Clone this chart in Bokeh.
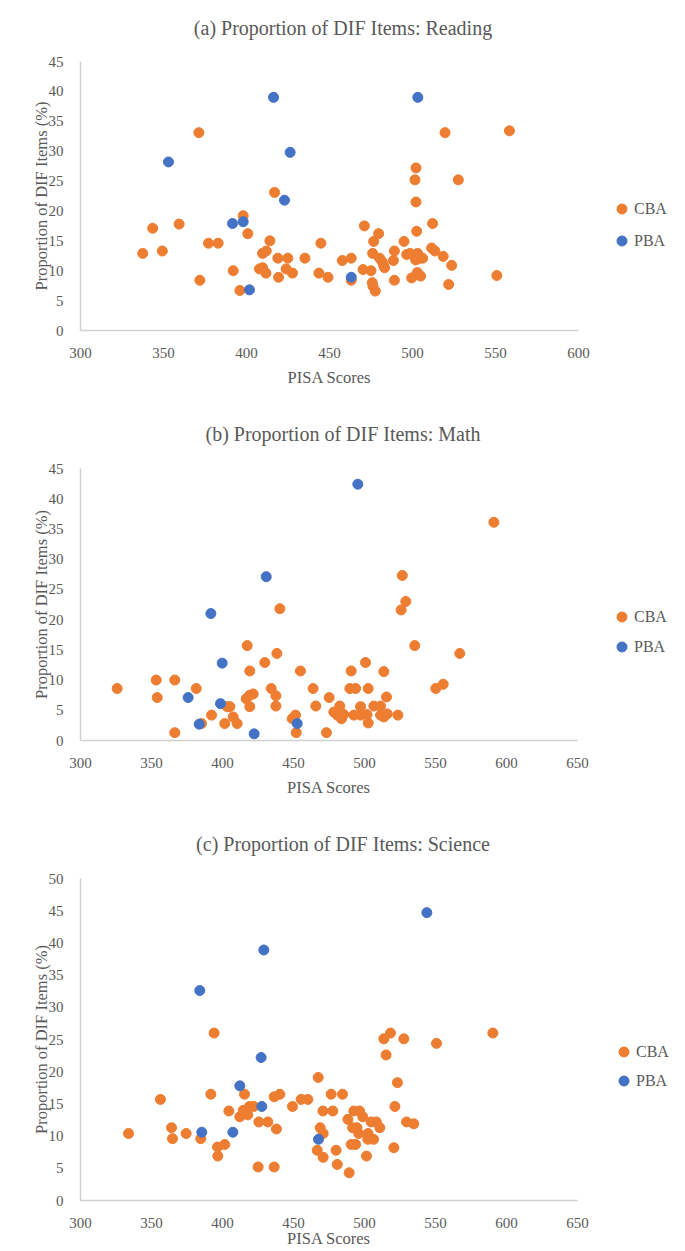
from bokeh.plotting import figure
from bokeh.models import Range1d, Label, Legend, LegendItem, FixedTicker
from bokeh.layouts import column
from bokeh.embed import file_html
from bokeh.resources import INLINE

# ---------------- data ----------------
# (a) Reading
read_cba_x = [337.5, 343.5, 349.3, 359.4, 371.3, 371.9, 377.1, 382.9, 392.0, 396.0, 398.0, 400.8,
              407.8, 409.7, 409.7, 411.7, 411.9, 414.1, 416.9, 418.9, 419.3, 423.9, 424.9, 427.7,
              435.2, 443.6, 444.8, 449.1, 457.7, 463.1, 463.1, 470.2, 471.0, 475.0, 475.8, 476.2,
              477.6, 476.6, 476.0, 479.6, 480.2, 481.8, 482.6, 483.2, 488.5, 489.1, 489.1, 494.9,
              496.5, 498.5, 499.5, 501.5, 502.1, 502.1, 502.5, 503.1, 501.9, 504.5, 506.1, 502.9,
              504.9, 511.5, 512.1, 513.5, 518.5, 519.6, 521.8, 523.6, 527.6, 550.8, 558.4]
read_cba_y = [12.9, 17.1, 13.3, 17.8, 33.1, 8.4, 14.6, 14.6, 10.0, 6.7, 19.2, 16.2,
              10.3, 12.9, 10.5, 9.6, 13.3, 15.0, 23.1, 12.1, 8.9, 10.3, 12.1, 9.6,
              12.1, 9.6, 14.6, 8.9, 11.7, 12.1, 8.4, 10.2, 17.5, 10.0, 8.0, 7.4,
              6.6, 14.9, 12.9, 16.2, 12.1, 11.5, 10.9, 10.5, 11.7, 13.3, 8.4, 14.9,
              12.7, 12.9, 8.8, 25.2, 27.2, 21.5, 16.6, 12.9, 11.8, 12.1, 12.1, 9.7,
              9.1, 13.8, 17.9, 13.3, 12.4, 33.1, 7.7, 10.9, 25.2, 9.2, 33.4]
read_pba_x = [353.0, 391.6, 398.0, 401.8, 416.3, 422.9, 426.3, 463.1, 503.2]
read_pba_y = [28.2, 17.9, 18.2, 6.8, 39.0, 21.8, 29.8, 8.9, 39.0]

# (b) Math
math_cba_x = [325.8, 353.3, 354.0, 366.4, 366.4, 381.5, 385.2, 392.3, 401.6, 403.3, 405.2, 407.5,
              410.3, 416.7, 417.4, 419.2, 419.2, 419.2, 421.6, 429.8, 434.3, 437.6, 437.6, 438.3,
              440.4, 449.1, 451.4, 451.9, 454.9, 463.8, 465.7, 473.2, 475.1, 478.4, 480.8, 482.6,
              483.8, 485.4, 490.6, 489.7, 493.7, 492.5, 497.2, 497.2, 500.7, 501.8, 502.6, 502.6,
              506.6, 511.3, 511.3, 513.6, 513.6, 515.5, 516.0, 523.5, 525.8, 526.6, 529.1, 535.4,
              550.2, 555.4, 567.1, 591.1]
math_cba_y = [8.6, 10.0, 7.1, 10.0, 1.3, 8.6, 2.8, 4.2, 2.8, 5.6, 5.6, 3.9,
              2.8, 6.9, 15.7, 11.5, 7.5, 5.6, 7.7, 12.9, 8.6, 7.4, 5.7, 14.4,
              21.8, 3.6, 4.2, 1.3, 11.5, 8.6, 5.7, 1.3, 7.1, 4.7, 4.2, 5.7,
              3.6, 4.3, 11.5, 8.6, 8.6, 4.2, 5.6, 4.2, 12.9, 4.3, 8.6, 2.9,
              5.7, 5.7, 4.2, 11.4, 3.9, 7.2, 4.4, 4.2, 21.6, 27.3, 23.0, 15.7,
              8.6, 9.3, 14.4, 36.1]
math_pba_x = [375.8, 383.6, 391.8, 398.6, 399.8, 422.3, 430.8, 452.6, 495.3]
math_pba_y = [7.1, 2.7, 21.0, 6.1, 12.8, 1.1, 27.1, 2.8, 42.4]

# (c) Science
sci_cba_x = [333.8, 356.3, 364.1, 364.8, 374.4, 384.7, 391.8, 394.1, 396.5, 396.7, 401.6, 404.5,
             412.2, 414.6, 415.5, 417.8, 419.0, 422.1, 425.6, 431.9, 425.1, 436.4, 436.4, 440.4,
             438.0, 449.3, 455.4, 460.1, 467.4, 470.7, 468.8, 470.9, 466.7, 470.9, 476.5, 477.7,
             484.5, 480.0, 480.8, 489.2, 488.3, 492.5, 496.5, 498.8, 491.6, 494.7, 495.9, 502.5,
             502.3, 506.4, 504.7, 508.4, 510.8, 490.6, 493.7, 501.4, 513.6, 518.3, 527.7, 515.2,
             550.7, 590.4, 523.2, 521.4, 529.6, 534.7, 520.7]
sci_cba_y = [10.4, 15.7, 11.3, 9.6, 10.4, 9.6, 16.5, 26.0, 8.3, 6.9, 8.7, 13.9,
             13.0, 14.0, 16.5, 13.3, 14.6, 14.6, 12.2, 12.2, 5.2, 5.2, 16.1, 16.5,
             11.1, 14.6, 15.7, 15.7, 19.1, 13.9, 11.3, 10.4, 7.8, 6.7, 16.5, 13.9,
             16.5, 7.8, 5.6, 4.3, 12.6, 13.9, 13.9, 13.0, 11.3, 11.3, 10.4, 10.4,
             9.5, 9.5, 12.2, 12.2, 11.3, 8.7, 8.7, 6.9, 25.1, 26.0, 25.1, 22.6,
             24.4, 26.0, 18.3, 14.6, 12.2, 11.9, 8.2]
sci_pba_x = [384.0, 385.4, 407.3, 412.2, 427.2, 427.7, 429.1, 467.6, 543.9]
sci_pba_y = [32.6, 10.6, 10.6, 17.8, 22.2, 14.6, 38.9, 9.5, 44.7]

titles = ["(a) Proportion of DIF Items: Reading",
          "(b) Proportion of DIF Items: Math",
          "(c) Proportion of DIF Items: Science"]
series_names = ["CBA", "PBA"]
x_label = "PISA Scores"
y_label = "Proportion of DIF Items (%)"

# ---------------- style ----------------
FONT = "Liberation Serif"
GRAY = "#595959"
AXIS = "#D0D0D0"
ORANGE = "#ED7D31"
BLUE = "#4472C4"
TOTAL_W = 685
LEFT = 80


def panel(title, cx, cy, px, py, xmax, ymax, frame_w, frame_h, top, bottom,
          title_up, legend_loc, legend_spacing, axis_xlabel=True, xlabel_down=0):
    p = figure(frame_width=frame_w, frame_height=frame_h,
               x_range=Range1d(300, xmax), y_range=Range1d(0, ymax),
               min_border_left=LEFT, min_border_right=TOTAL_W - LEFT - frame_w,
               min_border_top=top, min_border_bottom=bottom,
               output_backend="svg", toolbar_location=None,
               background_fill_color="white", border_fill_color="white")
    p.outline_line_color = None
    p.grid.grid_line_color = None
    p.xaxis.ticker = FixedTicker(ticks=list(range(300, xmax + 1, 50)))
    p.yaxis.ticker = FixedTicker(ticks=list(range(0, ymax + 1, 5)))
    for ax in (p.xaxis[0], p.yaxis[0]):
        ax.axis_line_color = AXIS
        ax.axis_line_width = 1.5
        ax.major_tick_out = 0
        ax.major_tick_in = 0
        ax.minor_tick_out = 0
        ax.minor_tick_in = 0
        ax.major_label_text_font = FONT
        ax.major_label_text_font_size = "15px"
        ax.major_label_text_color = GRAY
        ax.axis_label_text_font = FONT
        ax.axis_label_text_font_size = "16.5px"
        ax.axis_label_text_font_style = "normal"
        ax.axis_label_text_color = GRAY
    p.xaxis.major_label_standoff = 17
    p.yaxis.major_label_standoff = 17
    p.yaxis.axis_label = y_label
    p.yaxis.axis_label_standoff = -5
    if axis_xlabel:
        p.xaxis.axis_label = x_label
        p.xaxis.axis_label_standoff = 7

    r1 = p.scatter(cx, cy, size=10, color=ORANGE, line_color=ORANGE)
    r2 = p.scatter(px, py, size=10, color=BLUE, line_color=BLUE)

    legend = Legend(items=[LegendItem(label=series_names[0], renderers=[r1]),
                           LegendItem(label=series_names[1], renderers=[r2])],
                    location=legend_loc, glyph_width=25, glyph_height=25,
                    label_height=25, spacing=legend_spacing, padding=0, margin=0,
                    border_line_color=None, background_fill_alpha=0,
                    label_text_font=FONT, label_text_font_size="16px",
                    label_text_color=GRAY, label_standoff=0)
    p.add_layout(legend, "right")

    # title centred over the whole page width
    xc = 300 + (TOTAL_W / 2 - LEFT) / frame_w * (xmax - 300)
    yt = ymax + title_up * ymax / frame_h
    p.add_layout(Label(x=xc, y=yt, text=title, text_font=FONT, text_font_size="20px",
                       text_color=GRAY, text_align="center", text_baseline="middle"),
                 "above")
    if not axis_xlabel:
        yl = -xlabel_down * ymax / frame_h
        p.add_layout(Label(x=(300 + xmax) / 2, y=yl, text=x_label, text_font=FONT,
                           text_font_size="16.5px", text_color=GRAY,
                           text_align="center", text_baseline="middle"),
                     "above")
    return p


pa = panel(titles[0], read_cba_x, read_cba_y, read_pba_x, read_pba_y, 600, 45,
           498, 269, 61, 70, 34, (31, 77), 7)
pb = panel(titles[1], math_cba_x, math_cba_y, math_pba_x, math_pba_y, 650, 45,
           497, 272, 68, 70, 35, (32, 81), 5)
pc = panel(titles[2], sci_cba_x, sci_cba_y, sci_pba_x, sci_pba_y, 650, 50,
           497, 322, 68, 51, 35, (34, 107), 4, axis_xlabel=False, xlabel_down=38)

layout = column(pa, pb, pc, spacing=0)
open("out.html", "w").write(file_html(layout, INLINE))
